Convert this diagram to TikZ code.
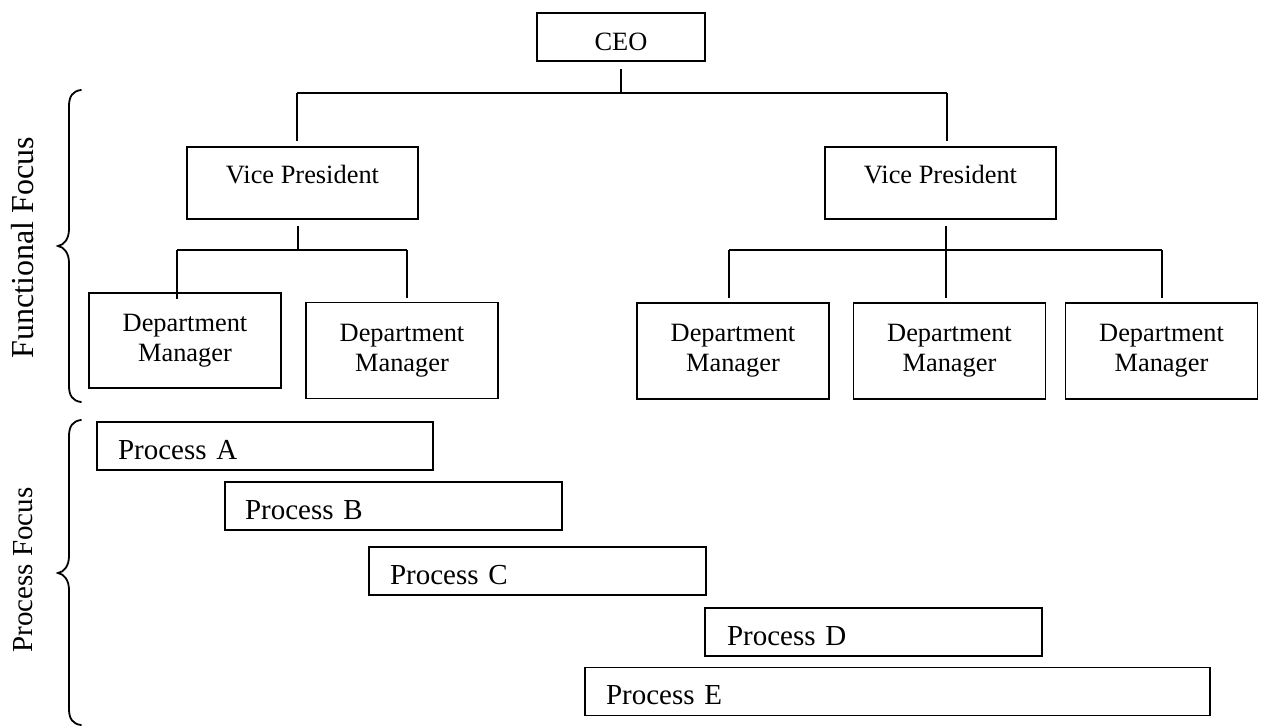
\documentclass[tikz,border=0pt]{standalone}
\usepackage{fontspec}
\setmainfont{Liberation Serif}
\newcommand\orgfont{\fontsize{26.4}{30}\selectfont}
\newcommand\procfont{\fontsize{29}{34}\selectfont}
\newcommand\funcfont{\fontsize{32}{36}\selectfont}
\begin{document}
\begin{tikzpicture}[x=1pt,y=-1pt,line width=1.8pt,
  box/.style={draw,line width=1.8pt,inner sep=0pt,font=\orgfont},
  ceobox/.style={box,minimum width=168pt,minimum height=48pt,text height=26pt,text depth=0pt},
  vpbox/.style={box,minimum width=231pt,minimum height=72pt,text height=10pt,text depth=10pt},
  dmbox/.style={box,minimum width=192pt,minimum height=96pt,align=center},
  procbox/.style={draw,line width=1.8pt,inner ysep=0pt,font=\procfont,minimum height=48pt,
    text height=26pt,text depth=0pt,align=left},
  focuslabel/.style={rotate=90,font=\procfont,inner sep=0pt},
  brace/.style={line width=1.8pt,line cap=round}]
\useasboundingbox (0,0) rectangle (1264,728);

% org chart
\node[ceobox] (ceo) at (621,37) {CEO};
\node[vpbox] (vp1) at (302.5,183) {Vice President};
\node[vpbox] (vp2) at (940.5,183) {Vice President};
\node[dmbox,minimum height=95pt] (dm1) at (185,340.5) {Department\\Manager};
\node[dmbox] (dm2) at (402,350.5) {Department\\Manager};
\node[dmbox] (dm3) at (733,351) {Department\\Manager};
\node[dmbox] (dm4) at (949.5,351) {Department\\Manager};
\node[dmbox] (dm5) at (1161.5,351) {Department\\Manager};

% junction points
\coordinate (b0l) at (297,93);
\coordinate (b0r) at (947,93);
\coordinate (b1l) at (177,250);
\coordinate (b1m) at (298,250);
\coordinate (b1r) at (407,250);
\coordinate (b2l) at (729,250);
\coordinate (b2m) at (946,250);
\coordinate (b2r) at (1162,250);

% connectors CEO -> VPs
\draw[shorten <=7pt] (ceo.south) -- (ceo.south |- b0l);
\draw (b0l) -- (b0r);
\draw[shorten >=5pt] (b0l) -- (b0l |- vp1.north);
\draw[shorten >=5pt] (b0r) -- (b0r |- vp2.north);

% connectors VP1 -> DMs
\draw[shorten <=6pt] (b1m |- vp1.south) -- (b1m);
\draw (b1l) -- (b1r);
\draw[shorten >=-7pt] (b1l) -- (b1l |- dm1.north);
\draw[shorten >=4pt] (b1r) -- (b1r |- dm2.north);

% connectors VP2 -> DMs
\draw[shorten <=6pt,shorten >=4pt] (b2m |- vp2.south) -- (b2m |- dm4.north);
\draw (b2l) -- (b2r);
\draw[shorten >=4pt] (b2l) -- (b2l |- dm3.north);
\draw[shorten >=4pt] (b2r) -- (b2r |- dm5.north);

% processes
\node[procbox,inner xsep=21pt,text width=294pt] (pa) at (265,446) {Process A};
\node[procbox,inner xsep=20pt,text width=297pt] (pb) at (393.5,506) {Process B};
\node[procbox,inner xsep=21pt,text width=295pt] (pc) at (537.5,571) {Process C};
\node[procbox,inner xsep=22pt,text width=293pt] (pd) at (873.5,632) {Process D};
\node[procbox,inner xsep=21pt,text width=583pt] (pe) at (897.5,691.5) {Process E};

% braces
\draw[brace] (81,90) .. controls (73,91) and (69,96) .. (69,106) -- (69,229)
  .. controls (69,239) and (64,245) .. (58,246)
  .. controls (64,247) and (69,253) .. (69,263) -- (69,386)
  .. controls (69,396) and (73,401) .. (81,402);
\draw[brace] (81,420) .. controls (73,421) and (69,426) .. (69,436) -- (69,556)
  .. controls (69,566) and (64,572) .. (58,573)
  .. controls (64,574) and (69,580) .. (69,590) -- (69,709)
  .. controls (69,719) and (73,724) .. (81,725);

% focus labels
\node[focuslabel,font=\funcfont] (ff) at (23,248) {Functional Focus};
\node[focuslabel] (pf) at (23,570) {Process Focus};
\end{tikzpicture}
\end{document}
